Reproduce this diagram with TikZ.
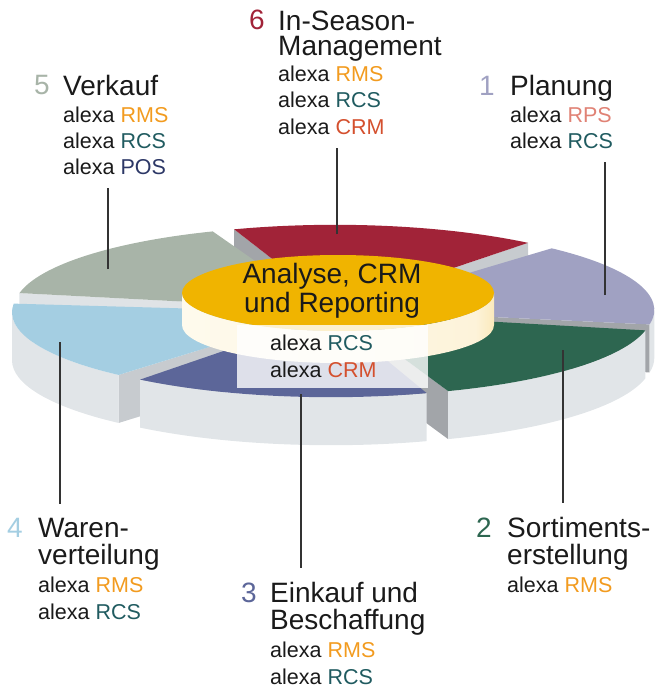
\documentclass[tikz,border=0pt]{standalone}
\usepackage{fontspec}
\setmainfont{Liberation Sans}
\usetikzlibrary{positioning,calc}
\definecolor{ink1}{HTML}{A0A1C2}
\definecolor{ink2}{HTML}{2D6650}
\definecolor{ink3}{HTML}{5C6699}
\definecolor{ink4}{HTML}{A4CEE2}
\definecolor{ink5}{HTML}{A8B4A8}
\definecolor{ink6}{HTML}{A12338}
\definecolor{rim}{HTML}{E1E5E8}
\definecolor{cutdark}{HTML}{A2A5A9}
\definecolor{cutmid}{HTML}{C7CBCF}
\definecolor{cutlight}{HTML}{DFE3E6}
\definecolor{hubgold}{HTML}{F0B400}
\definecolor{hubgold2}{HTML}{F4C23A}
\definecolor{hubcream}{HTML}{FFFEF7}
\definecolor{hubcream2}{HTML}{FDF3DA}
\definecolor{rms}{HTML}{F29B1F}
\definecolor{rcs}{HTML}{205B60}
\definecolor{pos}{HTML}{2C3766}
\definecolor{rps}{HTML}{E08275}
\definecolor{crm}{HTML}{D4502E}
\definecolor{leadgray}{HTML}{333333}
\definecolor{textblack}{HTML}{1A1A1A}
\pgfdeclarehorizontalshading{hubside}{100bp}{color(0bp)=(hubcream); color(72bp)=(hubcream2); color(88bp)=(hubgold2); color(100bp)=(hubgold)}
\newcommand{\alx}[2]{{\fontsize{21.5}{26}\selectfont alexa \textcolor{#1}{#2}}}

\begin{document}
\begin{tikzpicture}[x=1pt,y=1pt,
  lab/.style={anchor=base west, align=left, inner sep=0pt, text=textblack, font=\fontsize{28}{26}\selectfont},
  lowlab/.style={lab, font=\fontsize{28}{27.5}\selectfont},
  num/.style={anchor=base east, inner sep=0pt, font=\fontsize{28}{26}\selectfont},
  leader/.style={draw=leadgray, line width=1.2pt, shorten >=14pt},
  pierad/.style={x radius=310, y radius=83},
  hubrad/.style={x radius=156, y radius=38}]
  \useasboundingbox (0,0) rectangle (659,-690);
  % slice centres, pushed out along the middle angle
  \coordinate (c6) at (335.1,-307.8);
  \coordinate (c5) at (323.8,-308.9);
  \coordinate (c1) at (344.3,-310.0);
  \coordinate (c4) at (322.0,-312.3);
  \coordinate (c2) at (342.1,-313.1);
  \coordinate (c3) at (330.9,-314.2);
  % 6 in-season (back)
  \fill[cutdark] (c6) -- ++(109:310 and 83) -- ++(0,-48) -- ([yshift=-48pt]c6) -- cycle;
  \fill[cutmid] (c6) -- ++(51.5:310 and 83) -- ++(0,-48) -- ([yshift=-48pt]c6) -- cycle;
  \fill[ink6] (c6) -- ++(51.5:310 and 83) arc[pierad, start angle=51.5, end angle=109] -- cycle;
  % 5 verkauf
  \fill[cutlight] (c5) -- ++(169:310 and 83) -- ++(0,-48) -- ([yshift=-48pt]c5) -- cycle;
  \fill[ink5] (c5) -- ++(111:310 and 83) arc[pierad, start angle=111, end angle=169] -- cycle;
  % 1 planung
  \fill[cutdark] (c1) -- ++(-10:310 and 83) -- ++(0,-48) -- ([yshift=-48pt]c1) -- cycle;
  \fill[rim] ($(c1)+(-10:310 and 83)$) arc[pierad, start angle=-10, end angle=0] -- ++(0,-48) arc[pierad, start angle=0, end angle=-10] -- cycle;
  \fill[ink1] (c1) -- ++(-10:310 and 83) arc[pierad, start angle=-10, end angle=48] -- cycle;
  % 4 warenverteilung
  \fill[cutmid] (c4) -- ++(229:310 and 83) -- ++(0,-48) -- ([yshift=-48pt]c4) -- cycle;
  \fill[rim] ($(c4)+(180:310 and 83)$) arc[pierad, start angle=180, end angle=229] -- ++(0,-48) arc[pierad, start angle=229, end angle=180] -- cycle;
  \fill[ink4] (c4) -- ++(174:310 and 83) arc[pierad, start angle=174, end angle=229] -- cycle;
  % 2 sortimentserstellung
  \fill[cutdark] (c2) -- ++(-70:310 and 83) -- ++(0,-48) -- ([yshift=-48pt]c2) -- cycle;
  \fill[rim] ($(c2)+(-70:310 and 83)$) arc[pierad, start angle=-70, end angle=-12] -- ++(0,-48) arc[pierad, start angle=-12, end angle=-70] -- cycle;
  \fill[ink2] (c2) -- ++(-70:310 and 83) arc[pierad, start angle=-70, end angle=-12] -- cycle;
  % 3 einkauf (front)
  \fill[rim] ($(c3)+(-128:310 and 83)$) arc[pierad, start angle=-128, end angle=-72] -- ++(0,-48) arc[pierad, start angle=-72, end angle=-128] -- cycle;
  \fill[ink3] (c3) -- ++(-128:310 and 83) arc[pierad, start angle=-128, end angle=-72] -- cycle;
  % hub cylinder
  \coordinate (hub) at (338,-293);
  \shade[shading=hubside] ($(hub)+(-156,0)$) arc[hubrad, start angle=180, end angle=360] -- ++(0,-32) arc[hubrad, start angle=0, end angle=-180] -- cycle;
  \fill[hubgold] (hub) ellipse[hubrad];
  \fill[white, opacity=0.8] (237,-325) rectangle (428,-388);
  \node[anchor=base, align=center, inner sep=0pt, text=textblack, font=\fontsize{28}{29}\selectfont] (hubtitle) at (332,-312) {Analyse, CRM\\und Reporting};
  \node[lab, font=\fontsize{21.5}{27}\selectfont] (hubprod) at (270,-377) {alexa \textcolor{rcs}{RCS}\\alexa \textcolor{crm}{CRM}};
  % labels, placed by their last line
  \node[lab] (lab6) at (278,-134) {In-Season-\\Management\\\alx{rms}{RMS}\\\alx{rcs}{RCS}\\\alx{crm}{CRM}};
  \node[num, text=ink6] (num6) at (265,-30) {6};
  \node[lab] (lab5) at (63,-174) {Verkauf\\\alx{rms}{RMS}\\\alx{rcs}{RCS}\\\alx{pos}{POS}};
  \node[num, text=ink5] (num5) at (50,-95) {5};
  \node[lab] (lab1) at (510,-148) {Planung\\\alx{rps}{RPS}\\\alx{rcs}{RCS}};
  \node[num, text=ink1] (num1) at (495,-96) {1};
  \node[lowlab] (lab4) at (38,-619.5) {Waren-\\verteilung\\\alx{rms}{RMS}\\\alx{rcs}{RCS}};
  \node[num, text=ink4] (num4) at (23,-537) {4};
  \node[lowlab] (lab3) at (270,-684.5) {Einkauf und\\Beschaffung\\\alx{rms}{RMS}\\\alx{rcs}{RCS}};
  \node[num, text=ink3] (num3) at (257,-602) {3};
  \node[lowlab] (lab2) at (507,-592) {Sortiments-\\erstellung\\\alx{rms}{RMS}};
  \node[num, text=ink2] (num2) at (492,-537) {2};
  % leaders
  \coordinate (p6) at (337,-234);
  \coordinate (p5) at (108,-269);
  \coordinate (p1) at (605,-295);
  \coordinate (p4) at (60,-342);
  \coordinate (p3) at (301,-394);
  \coordinate (p2) at (563,-350);
  \draw[leader] (p6) -- (p6 |- lab6.south);
  \draw[leader] (p5) -- (p5 |- lab5.south);
  \draw[leader] (p1) -- (p1 |- lab1.south);
  \draw[leader] (p4) -- (p4 |- lab4.north);
  \draw[leader] (p3) -- (p3 |- lab3.north);
  \draw[leader] (p2) -- (p2 |- lab2.north);
\end{tikzpicture}
\end{document}
